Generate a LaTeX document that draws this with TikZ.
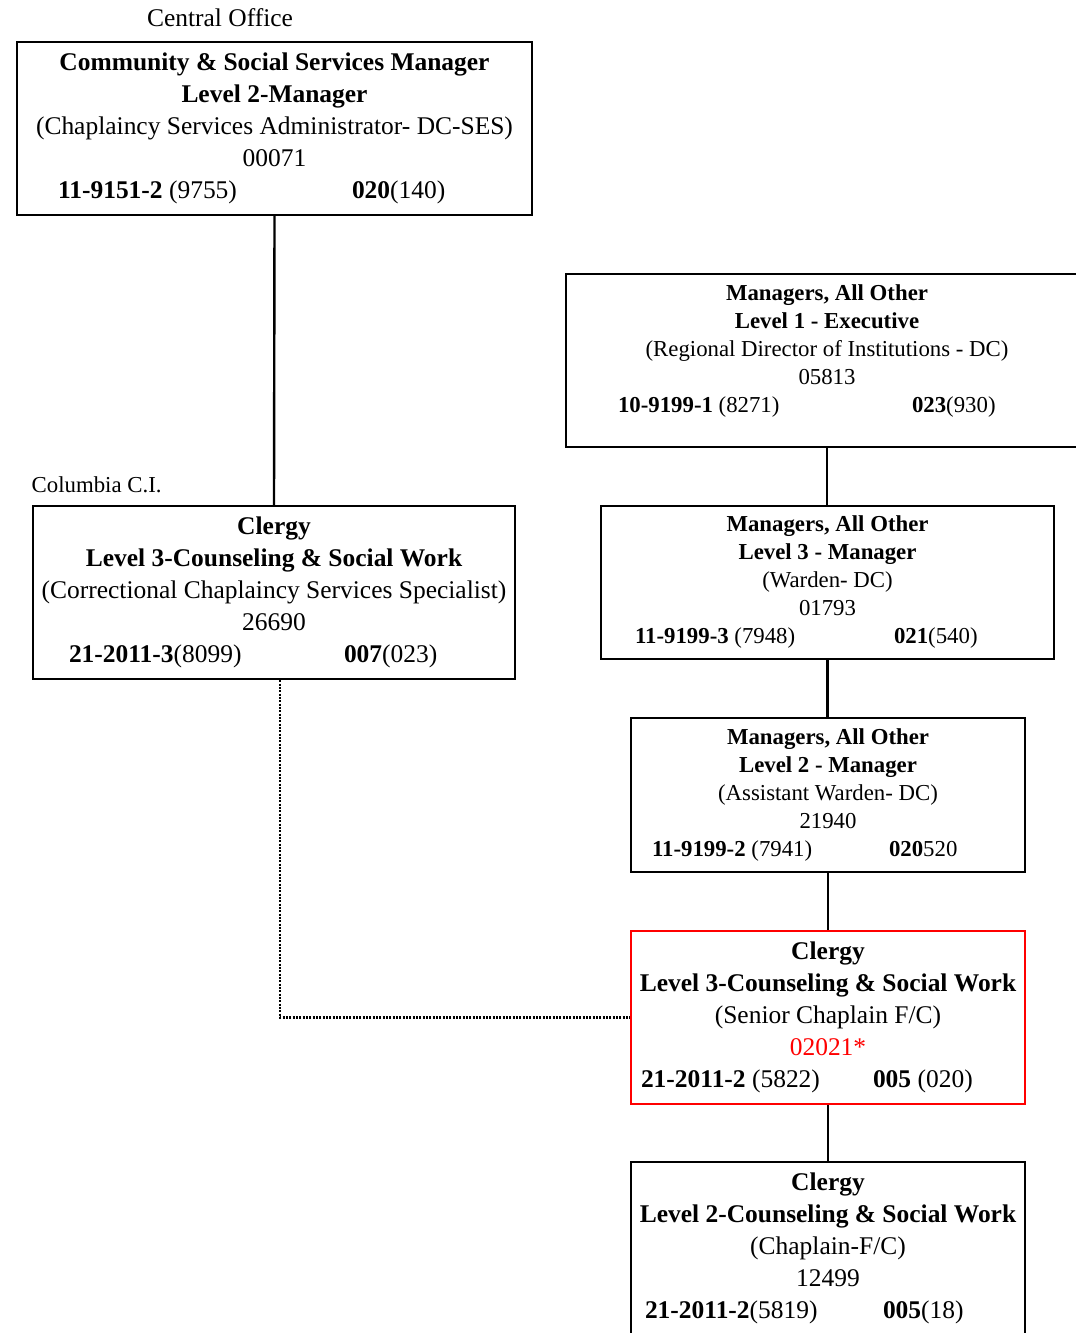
\documentclass[tikz,border=0pt]{standalone}
\usepackage{fontspec}
\setmainfont{Liberation Serif}
\usetikzlibrary{positioning}

% font sizes of the two kinds of boxes
\newcommand{\bigsize}{\fontsize{19.1}{24}\selectfont}
\newcommand{\smallsize}{\fontsize{17.1}{21}\selectfont}
% last line of a box: class code on the left, grade on the right
\newcommand{\codeline}[4]{\makebox[\dimexpr0.75pt*#1\relax][l]{\makebox[\dimexpr0.75pt*#2\relax][l]{#3}#4}}

\begin{document}
\begin{tikzpicture}[x=0.75pt, y=-0.75pt,
    post/.style={draw, line width=1.8pt, align=center, inner sep=0pt},
    bigpost/.style={post, font=\bigsize},
    smallpost/.style={post, font=\smallsize},
    link/.style={line width=1.8pt},
    dotlink/.style={line width=1.6pt, dash pattern=on 1.5pt off 1pt}]

    % page frame
    \useasboundingbox (0,0) rectangle (1075,1333);

    % Central Office
    \node[font=\bigsize] (colabel) at (220,18) {Central Office};
    \node[bigpost, minimum width=386.25pt, minimum height=129.75pt] (co) at (274.5,128.5)
        {\textbf{Community \& Social Services Manager}\\
         \textbf{Level 2-Manager}\\
         (Chaplaincy Services Administrator- DC-SES)\\
         00071\\
         \codeline{433}{294}{\textbf{11-9151-2} (9755)}{\textbf{020}(140)}};

    % Columbia C.I.
    \node[font=\smallsize, anchor=west] (cilabel) at (27,485) {Columbia C.I.};
    \node[bigpost, minimum width=361.5pt, minimum height=129.75pt] (clergyci) at (274,592.5)
        {\textbf{Clergy}\\
         \textbf{Level 3-Counseling \& Social Work}\\
         (Correctional Chaplaincy Services Specialist)\\
         26690\\
         \codeline{410}{275}{\textbf{21-2011-3}(8099)}{\textbf{007}(023)}};

    % chain of command on the right
    \node[smallpost, minimum width=391.5pt, minimum height=129.75pt] (exec) at (827,360.5)
        {\textbf{Managers, All Other}\\
         \textbf{Level 1 - Executive}\\
         (Regional Director of Institutions - DC)\\
         05813\\
         \codeline{418}{294}{\textbf{10-9199-1} (8271)}{\textbf{023}(930)}\\[-3pt]
         \mbox{}};

    \node[smallpost, minimum width=339.75pt, minimum height=114.75pt] (warden) at (827.5,582.5)
        {\textbf{Managers, All Other}\\
         \textbf{Level 3 - Manager}\\
         (Warden- DC)\\
         01793\\
         \codeline{385}{259}{\textbf{11-9199-3} (7948)}{\textbf{021}(540)}};

    \node[smallpost, minimum width=295.5pt, minimum height=115.5pt] (aw) at (828,795)
        {\textbf{Managers, All Other}\\
         \textbf{Level 2 - Manager}\\
         (Assistant Warden- DC)\\
         21940\\
         \codeline{352}{237}{\textbf{11-9199-2} (7941)}{\textbf{020}520}};

    \node[bigpost, draw=red, minimum width=295.5pt, minimum height=129.75pt] (sc) at (828,1017.5)
        {\textbf{Clergy}\\
         \textbf{Level 3-Counseling \& Social Work}\\
         (Senior Chaplain F/C)\\
         \textcolor{red}{02021*}\\
         \codeline{374}{232}{\textbf{21-2011-2} (5822)}{\textbf{005} (020)}};

    \node[bigpost, minimum width=295.5pt, minimum height=129pt] (chap) at (828,1248)
        {\textbf{Clergy}\\
         \textbf{Level 2-Counseling \& Social Work}\\
         (Chaplain-F/C)\\
         12499\\
         \codeline{366}{238}{\textbf{21-2011-2}(5819)}{\textbf{005}(18)}};

    % reporting lines
    \draw[link] (co.south) -- (clergyci.north);
    \draw[link] (exec.south) -- (exec.south |- warden.north);
    \draw[link] (warden.south) -- (warden.south |- aw.north);
    \draw[link] (aw.south) -- (sc.north);
    \draw[link] (sc.south) -- (chap.north);

    % dotted line from Columbia to the senior chaplain
    \draw[dotlink] ([xshift=4.5pt]clergyci.south) |- (sc.west);

\end{tikzpicture}
\end{document}
